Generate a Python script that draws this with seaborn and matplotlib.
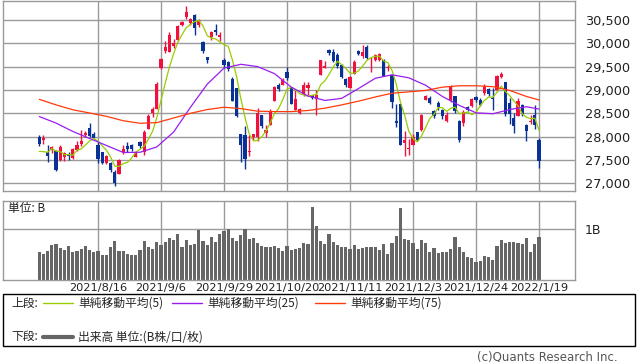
import numpy as np
import pandas as pd
import matplotlib
matplotlib.use('Agg')
import matplotlib.pyplot as plt
from matplotlib.lines import Line2D
from matplotlib.patches import Rectangle
import seaborn as sns

# daily candles 2021/7/26 .. 2022/1/19 (120 trading days)
opens = [28000, 27930, 27680, 27710, 27690, 27490, 27570, 27630, 27540, 27710,
         27840, 28040, 28190, 28060, 27820, 27680, 27430, 27430, 27250, 27190,
         27660, 27790, 27820, 27570, 27890, 27680, 28170, 28510, 28600, 29460,
         29840, 29820, 29940, 30070, 30390, 30570, 30430, 30610, 30390, 30030,
         29710, 30130, 30290, 30140, 29640, 29590, 29230, 29040, 28060, 28040,
         27660, 28000, 27990, 28460, 28080, 28250, 28770, 29110, 29110, 29390,
         29060, 28570, 28500, 28890, 29050, 28890, 28800, 29320, 29460, 29860,
         29820, 29750, 29540, 29230, 29040, 29340, 29830, 29730, 29930, 29590,
         29640, 29640, 29650, 29460, 29320, 28340, 28700, 27870, 27730, 27820,
         28090, 28140, 28790, 28820, 28540, 28710, 28570, 28340, 28790, 28860,
         28340, 28300, 28630, 28660, 28840, 28790, 28940, 29010, 28820, 28990,
         29270, 29160, 28710, 28390, 28440, 28680, 28250, 28320, 28460, 27930]
highs = [28040, 28040, 27820, 27800, 27710, 27820, 27660, 27660, 27750, 27910,
         28140, 28110, 28290, 28090, 27890, 27680, 27610, 27460, 27290, 27520,
         27820, 27890, 27840, 27700, 27900, 28150, 28480, 28630, 29160, 29680,
         30060, 30250, 30100, 30400, 30480, 30800, 30540, 30630, 30530, 30040,
         29710, 30260, 30410, 30250, 29680, 29630, 29270, 29040, 28060, 28230,
         28040, 28060, 28610, 28460, 28240, 28590, 29090, 29140, 29250, 29490,
         29060, 29000, 28610, 29180, 29180, 28890, 29000, 29650, 29610, 29880,
         29880, 29790, 29560, 29260, 29300, 29650, 29860, 29960, 29960, 29710,
         29760, 29800, 29660, 29540, 29320, 28700, 28700, 28110, 27940, 28060,
         28100, 28480, 28900, 28870, 28560, 28760, 28600, 28530, 29100, 28860,
         28360, 28560, 28660, 28830, 28870, 28830, 29120, 29050, 29040, 29320,
         29390, 29180, 28820, 28500, 28820, 28690, 28260, 28460, 28680, 27960]
lows = [27790, 27840, 27460, 27640, 27260, 27480, 27480, 27490, 27510, 27700,
        27790, 27990, 28000, 27960, 27430, 27410, 27420, 27250, 26950, 27190,
        27630, 27680, 27700, 27570, 27750, 27610, 28160, 28430, 28590, 29440,
        29790, 29820, 29900, 30050, 30370, 30530, 30400, 30180, 30360, 29800,
        29580, 30080, 30180, 30040, 29470, 29410, 28770, 28420, 27460, 27300,
        27590, 27920, 27900, 28190, 27990, 28250, 28770, 28970, 29100, 29210,
        28700, 28570, 28490, 28860, 28900, 28800, 28460, 29320, 29460, 29750,
        29590, 29480, 29250, 29070, 29040, 29340, 29740, 29680, 29660, 29390,
        29630, 29620, 29300, 29400, 28610, 28210, 27820, 27590, 27600, 27820,
        27900, 28120, 28780, 28690, 28400, 28560, 28370, 28320, 28750, 28500,
        27890, 28230, 28540, 28640, 28750, 28650, 28900, 28860, 28570, 28980,
        29250, 28440, 28270, 28080, 28440, 28440, 27910, 28270, 28170, 27320]
closes = [27833, 27970, 27581, 27782, 27283, 27781, 27641, 27584, 27728, 27820,
          27914, 28070, 28015, 27977, 27523, 27424, 27590, 27281, 27013, 27494,
          27732, 27724, 27742, 27660, 27789, 28089, 28451, 28600, 29128, 29659,
          29916, 30181, 30008, 30381, 30447, 30670, 30511, 30323, 30500, 29840,
          29639, 30248, 30240, 30183, 29544, 29452, 28771, 28444, 27822, 27528,
          27700, 28048, 28498, 28230, 28140, 28550, 29068, 29025, 29215, 29255,
          28708, 28804, 28600, 29106, 29098, 28820, 28892, 29647, 29520, 29794,
          29611, 29507, 29285, 29106, 29277, 29609, 29776, 29808, 29688, 29598,
          29745, 29774, 29302, 29499, 28751, 28283, 27821, 27935, 27753, 28000,
          27927, 28455, 28860, 28725, 28437, 28640, 28432, 28470, 29066, 28545,
          27937, 28517, 28562, 28798, 28782, 28676, 29069, 28906, 28800, 29301,
          29332, 28487, 28478, 28222, 28765, 28489, 28124, 28333, 28257, 27467]
# closes of the 4 sessions before the first candle (needed for the 5-day average)
prior_closes = [28003, 27652, 27388, 27548]
# volume, billions of shares
volume = [0.54, 0.51, 0.57, 0.69, 0.71, 0.62, 0.59, 0.67, 0.54, 0.57,
          0.61, 0.67, 0.59, 0.55, 0.57, 0.49, 0.49, 0.65, 0.76, 0.57,
          0.57, 0.51, 0.49, 0.49, 0.59, 0.76, 0.65, 0.61, 0.75, 0.69,
          0.75, 0.82, 0.78, 0.90, 0.65, 0.78, 0.69, 0.71, 0.98, 0.76,
          0.69, 0.84, 0.75, 0.90, 0.96, 1.00, 0.82, 0.76, 0.88, 1.00,
          0.80, 0.82, 0.73, 0.67, 0.65, 0.65, 0.67, 0.63, 0.57, 0.67,
          0.59, 0.61, 0.63, 0.73, 0.71, 1.43, 1.06, 0.76, 0.71, 0.90,
          0.75, 0.69, 0.65, 0.65, 0.61, 0.69, 0.61, 0.63, 0.65, 0.65,
          0.65, 0.59, 0.71, 0.51, 0.73, 0.86, 1.41, 0.80, 0.78, 0.73,
          0.61, 0.78, 0.73, 0.55, 0.63, 0.53, 0.55, 0.55, 0.61, 0.84,
          0.65, 0.55, 0.45, 0.43, 0.35, 0.37, 0.47, 0.45, 0.39, 0.67,
          0.78, 0.73, 0.75, 0.75, 0.73, 0.71, 0.82, 0.55, 0.71, 0.84]

# 25 / 75 day averages
ma_days = [0, 4, 8, 12, 16, 20, 24, 28, 32, 36, 40, 44, 48, 52, 56, 60,
           64, 68, 72, 76, 80, 84, 88, 92, 96, 100, 104, 108, 112, 116, 119]
ma25 = [28430, 28290, 28110, 27960, 27810, 27660, 27665, 27780, 28100, 28630,
        29125, 29470, 29550, 29500, 29350, 29060, 28870, 28775, 28820, 29030,
        29250, 29325, 29260, 29100, 28860, 28670, 28510, 28490, 28580, 28640, 28590]
ma75 = [28800, 28680, 28575, 28506, 28435, 28340, 28286, 28300, 28400, 28500,
        28580, 28630, 28600, 28545, 28536, 28536, 28560, 28610, 28680, 28760,
        28850, 28930, 28960, 28990, 29060, 29090, 29090, 29070, 28990, 28860, 28786]

date_ticks = [14, 29, 44, 59, 74, 89, 104, 119]
date_labels = ['2021/8/16', '2021/9/6', '2021/9/29', '2021/10/20',
               '2021/11/11', '2021/12/3', '2021/12/24', '2022/1/19']
price_ticks = [27000, 27500, 28000, 28500, 29000, 29500, 30000, 30500]

RED, BLUE = '#f0123c', '#0a3296'
C5, C25, C75 = '#99cc00', '#9a1cf0', '#ff3a0a'
GRID = '#9a9a9a'
JP = ['Noto Sans CJK JP', 'DejaVu Sans']

sns.set_theme(style='white')
plt.rcParams['font.family'] = ['DejaVu Sans', 'Noto Sans CJK JP']

W, H = 638, 362
def fx(x):
    return x / W
def fy(y):
    return 1 - y / H

fig = plt.figure(figsize=(6.38, 3.62), dpi=100)
ax = fig.add_axes([fx(3.3), fy(190.7), 571.4 / W, 190 / H])
axv = fig.add_axes([fx(3.3), fy(280), 571.4 / W, 79 / H])

df = pd.DataFrame({'day': np.arange(len(closes)), 'open': opens, 'high': highs,
                   'low': lows, 'close': closes, 'volume': volume})
all_close = pd.Series(prior_closes + closes)
df['ma5'] = all_close.rolling(5).mean().iloc[len(prior_closes):].to_numpy()
up = df['close'] >= df['open']
cols = np.where(up, RED, BLUE)

# candles
ax.vlines(df['day'], df['low'], df['high'], colors=cols, lw=1, zorder=2)
body_lo = df[['open', 'close']].min(axis=1)
body_h = (df['close'] - df['open']).abs().clip(lower=12)
ax.bar(df['day'], body_h, bottom=body_lo, width=0.76, color=cols, linewidth=0, zorder=2)

# moving averages
sns.lineplot(x=df['day'], y=df['ma5'], color=C5, lw=0.9, ax=ax, zorder=3)
sns.lineplot(x=ma_days, y=ma25, color=C25, lw=0.9, ax=ax, zorder=3)
sns.lineplot(x=ma_days, y=ma75, color=C75, lw=0.9, ax=ax, zorder=3)

xlim = (-8.57, 127.48)
ax.set_xlim(xlim)
ax.set_ylim(26841, 30913)
ax.set_xticks(date_ticks)
ax.set_xticklabels([])
ax.set_yticks(price_ticks)
ax.set_yticklabels([f'{p:,}' for p in price_ticks])
ax.yaxis.tick_right()
ax.tick_params(length=0, labelsize=9.3, labelcolor='#222222', pad=7.5)
ax.set_xlabel('')
ax.set_ylabel('')
ax.grid(True, color=GRID, lw=1)
ax.set_axisbelow(True)
for s in ax.spines.values():
    s.set_color(GRID)
    s.set_linewidth(1)

# volume
sns.barplot(x=df['day'], y=df['volume'], native_scale=True, color='#666666',
            saturation=1, width=0.76, errorbar=None, linewidth=0, ax=axv, zorder=2)
axv.set_xlim(xlim)
axv.set_ylim(0, 79 / 51)
axv.set_xticks(date_ticks)
axv.set_xticklabels(date_labels)
axv.set_yticks([1.0])
axv.set_yticklabels(['1B'])
axv.yaxis.tick_right()
axv.tick_params(axis='y', length=0, labelsize=9, labelcolor='#222222', pad=7.5)
axv.tick_params(axis='x', length=0, labelsize=8.2, labelcolor='#222222', pad=2)
axv.set_xlabel('')
axv.set_ylabel('')
axv.grid(True, color=GRID, lw=1)
axv.set_axisbelow(True)
for s in axv.spines.values():
    s.set_color(GRID)
    s.set_linewidth(1)
axv.text(0.008, 0.9, '単位: B', transform=axv.transAxes, ha='left', va='center',
         fontsize=8.5, family=JP, color='#222222')

# legend box
fig.add_artist(Rectangle((fx(3.3), fy(345.7)), 632 / W, 51.4 / H, transform=fig.transFigure,
                         fill=False, edgecolor='black', lw=1))
row1, row2 = 303.3, 336.7
fig.text(fx(11), fy(row1), '上段:', ha='left', va='center', fontsize=8.5, family=JP)
fig.text(fx(11), fy(row2), '下段:', ha='left', va='center', fontsize=8.5, family=JP)
items = [(43, C5, '単純移動平均(5)'), (172, C25, '単純移動平均(25)'), (315, C75, '単純移動平均(75)')]
for x0, c, lab in items:
    fig.add_artist(Line2D([fx(x0), fx(x0 + 30)], [fy(row1), fy(row1)], color=c, lw=1))
    fig.text(fx(x0 + 35), fy(row1), lab, ha='left', va='center', fontsize=8.5, family=JP)
fig.add_artist(Line2D([fx(43), fx(73)], [fy(row2), fy(row2)], color='#666666', lw=3))
fig.text(fx(78), fy(row2), '出来高 単位:(B株/口/枚)', ha='left', va='center', fontsize=8.5, family=JP)

fig.text(fx(618), fy(357), '(c)Quants Research Inc.', ha='right', va='center',
         fontsize=8.5, color='#555555')

fig.savefig('out.png', dpi=100)
